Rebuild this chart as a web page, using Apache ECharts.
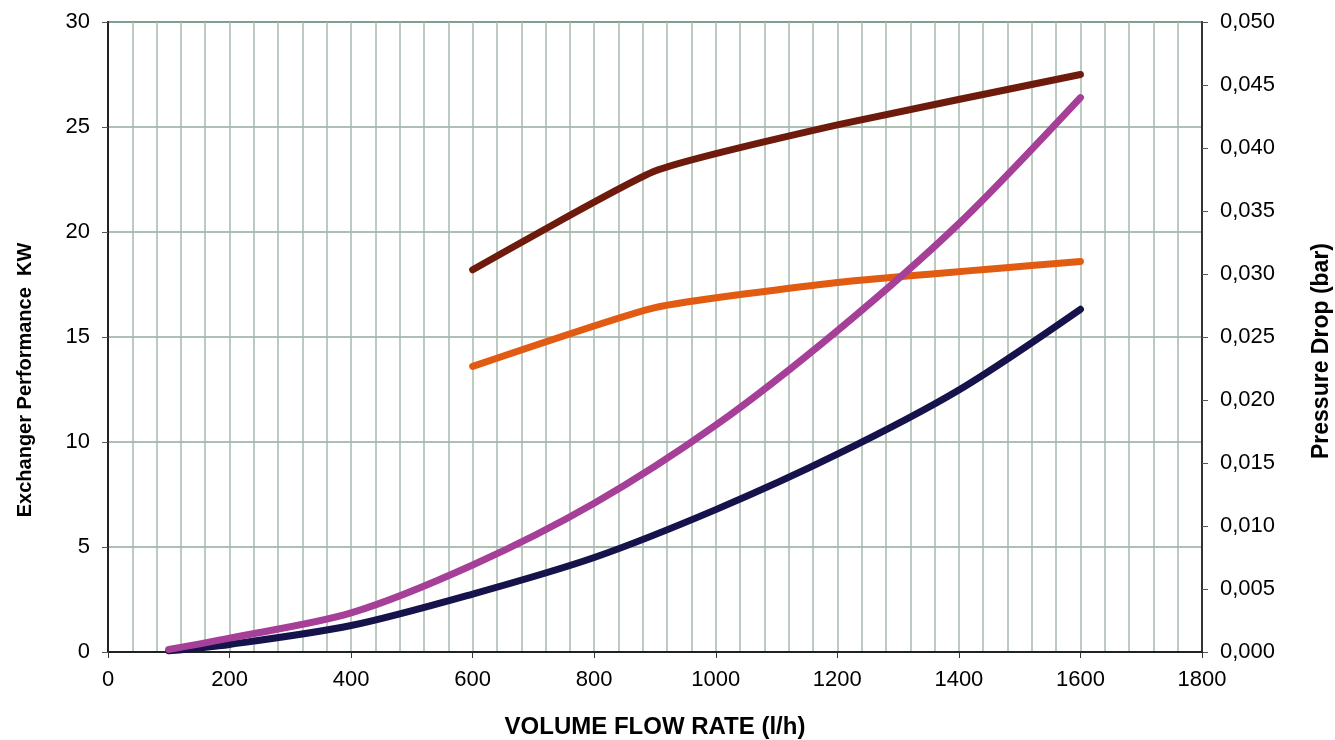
<!DOCTYPE html>
<html>
<head>
<meta charset="utf-8">
<script src="https://cdn.jsdelivr.net/npm/echarts@6/dist/echarts.min.js"></script>
<style>
  html, body { margin: 0; padding: 0; background: #fff; }
  #chart { width: 1335px; height: 740px; }
</style>
</head>
<body>
<div id="chart"></div>
<script>
// exchanger performance (kW), left axis
const flowPerf = [600, 900, 1200, 1600];
const perfHigh = [18.2, 22.9, 25.1, 27.5];
const perfLow = [13.6, 16.4, 17.6, 18.6];

// pressure drop (bar), right axis
const flowDrop = [100, 200, 400, 600, 800, 1000, 1200, 1400, 1600];
const dropHigh = [0.0002, 0.0011, 0.0031, 0.0069, 0.0118, 0.0180, 0.0255, 0.0340, 0.0440];
const dropLow = [0.0001, 0.0006, 0.0021, 0.0046, 0.0075, 0.0113, 0.0157, 0.0208, 0.0272];

const leftTicks = [0, 5, 10, 15, 20, 25, 30];
const rightTicks = [0, 0.005, 0.01, 0.015, 0.02, 0.025, 0.03, 0.035, 0.04, 0.045, 0.05];

const pair = (xs, ys) => xs.map((x, i) => [x, ys[i]]);
const font = 'Liberation Sans, Arial, sans-serif';
const gridColor = '#a7b9af';

const chart = echarts.init(document.getElementById('chart'));

const line = (name, data, color, yIdx, smooth) => ({
  name: name,
  type: 'line',
  yAxisIndex: yIdx,
  data: data,
  smooth: smooth,
  showSymbol: false,
  lineStyle: { color: color, width: 7, cap: 'round', join: 'round' },
  itemStyle: { color: color },
  z: 5
});

chart.setOption({
  animation: false,
  backgroundColor: '#fff',
  grid: {
    left: 108, right: 133, top: 22, bottom: 88,
    outerBoundsMode: 'none',
    containLabel: false,
    show: true, borderColor: '#3c8462', borderWidth: 2, backgroundColor: 'transparent'
  },
  xAxis: {
    type: 'value',
    min: 0, max: 1800, interval: 200,
    name: 'VOLUME FLOW RATE (l/h)',
    nameLocation: 'middle',
    nameGap: 63,
    nameTextStyle: { fontFamily: font, fontSize: 24, fontWeight: 'bold', color: '#000' },
    axisLine: { show: true, lineStyle: { color: '#222', width: 2 } },
    axisTick: { show: true, length: 6, lineStyle: { color: '#333' } },
    axisLabel: { margin: 17, fontFamily: font, fontSize: 22, color: '#000', formatter: v => String(v) },
    splitLine: { show: true, lineStyle: { color: gridColor, width: 1.5 } },
    minorTick: { show: false, splitNumber: 5 },
    minorSplitLine: { show: true, lineStyle: { color: gridColor, width: 1.5 } }
  },
  yAxis: [{
    type: 'value',
    min: leftTicks[0], max: leftTicks[leftTicks.length - 1], interval: 5,
    name: 'Exchanger Performance  KW',
    nameLocation: 'middle',
    nameRotate: 90,
    nameGap: 73,
    nameTextStyle: { fontFamily: font, fontSize: 20, fontWeight: 'bold', color: '#000', padding: [0, 86, 0, 0] },
    axisLine: { show: true, lineStyle: { color: '#222', width: 2 } },
    axisTick: { show: true, length: 6, lineStyle: { color: '#555' } },
    axisLabel: { margin: 18, fontFamily: font, fontSize: 22, color: '#000' },
    splitLine: { show: true, lineStyle: { color: '#95aa9e', width: 1.5 } }
  }, {
    type: 'value',
    position: 'right',
    min: rightTicks[0], max: rightTicks[rightTicks.length - 1], interval: 0.005,
    name: 'Pressure Drop (bar)',
    nameLocation: 'middle',
    nameRotate: 90,
    nameGap: 108,
    nameTextStyle: { fontFamily: font, fontSize: 23, fontWeight: 'bold', color: '#000', padding: [0, 28, 0, 0] },
    axisLine: { show: true, lineStyle: { color: '#333', width: 2 } },
    axisTick: { show: true, length: 6, lineStyle: { color: '#555' } },
    axisLabel: {
      margin: 18, fontFamily: font, fontSize: 22, color: '#000',
      formatter: v => v.toFixed(3).replace('.', ',')
    },
    splitLine: { show: false }
  }],
  series: [
    line('perfHigh', pair(flowPerf, perfHigh), '#6e1a0c', 0, 0.15),
    line('perfLow', pair(flowPerf, perfLow), '#e25b12', 0, 0.15),
    line('dropLow', pair(flowDrop, dropLow), '#16124c', 1, 0.3),
    line('dropHigh', pair(flowDrop, dropHigh), '#a63f98', 1, 0.3)
  ]
});
</script>
</body>
</html>
